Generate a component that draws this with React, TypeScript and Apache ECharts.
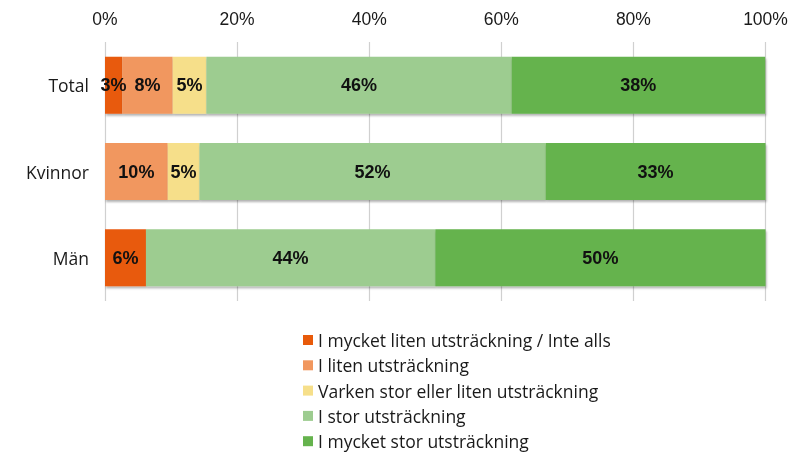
import React, { useEffect, useRef } from "react";
import * as echarts from "echarts";

const categories = ["Total", "Kvinnor", "Män"];
const seriesNames = [
  "I mycket liten utsträckning / Inte alls",
  "I liten utsträckning",
  "Varken stor eller liten utsträckning",
  "I stor utsträckning",
  "I mycket stor utsträckning",
];
const veryLittle = [2.6, 0, 6.2];
const little = [7.65, 9.5, 0];
const neither = [5.1, 4.8, 0];
const large = [46.2, 52.4, 43.8];
const veryLarge = [38.4, 33.3, 50.0];
const tickValues = [0, 20, 40, 60, 80, 100];

const colors = ["#E85A0A", "#F1975E", "#F6DF8A", "#9DCC90", "#65B34D"];
const FONT = "'Liberation Sans', Arial, sans-serif";
const WIDE = "'Open Sans', 'Noto Sans', sans-serif";

export default function App() {
  const ref = useRef<HTMLDivElement>(null);
  useEffect(() => {
    if (!ref.current) return;
    const chart = echarts.init(ref.current, null, { renderer: "svg" });
    const allData = [veryLittle, little, neither, large, veryLarge];
    chart.setOption({
      animation: false,
      textStyle: { fontFamily: FONT },
      grid: { left: 105, right: 32.5, top: 42, bottom: 153, containLabel: false },
      xAxis: {
        type: "value",
        position: "top",
        min: tickValues[0],
        max: tickValues[tickValues.length - 1],
        interval: 20,
        axisLine: { show: false },
        axisTick: { show: false },
        axisLabel: {
          formatter: "{value}%",
          fontSize: 17.5,
          color: "#1a1a1a",
          margin: 14,
          fontFamily: FONT,
        },
        splitLine: { show: true, lineStyle: { color: "#d0d0d0", width: 1.2 } },
      },
      yAxis: {
        type: "category",
        data: categories,
        inverse: true,
        axisLine: { show: false },
        axisTick: { show: false },
        axisLabel: { fontSize: 17.5, color: "#1a1a1a", margin: 16, fontFamily: WIDE },
      },
      legend: {
        orient: "vertical",
        left: 303,
        top: 331,
        height: 123,
        padding: 0,
        itemWidth: 10,
        itemHeight: 10,
        itemGap: 7.3,
        icon: "rect",
        textStyle: { fontSize: 17.5, color: "#1a1a1a", fontFamily: WIDE },
        data: seriesNames,
      },
      series: seriesNames.map((name, i) => ({
        name,
        type: "bar",
        stack: "total",
        barCategoryGap: "34%",
        data: allData[i],
        itemStyle: {
          color: colors[i],
          shadowColor: "rgba(0,0,0,0.3)",
          shadowBlur: 2,
          shadowOffsetY: 2,
          shadowOffsetX: 1,
        },
        label: {
          show: true,
          position: "inside",
          fontSize: 18,
          fontWeight: "bold",
          color: "#111",
          fontFamily: FONT,
          formatter: (p: any) => (p.value > 0 ? Math.round(p.value) + "%" : ""),
        },
      })),
    });
    return () => chart.dispose();
  }, []);
  return (
    <div
      ref={ref}
      style={{ position: "fixed", left: 0, top: 0, width: 798, height: 454 }}
    />
  );
}
